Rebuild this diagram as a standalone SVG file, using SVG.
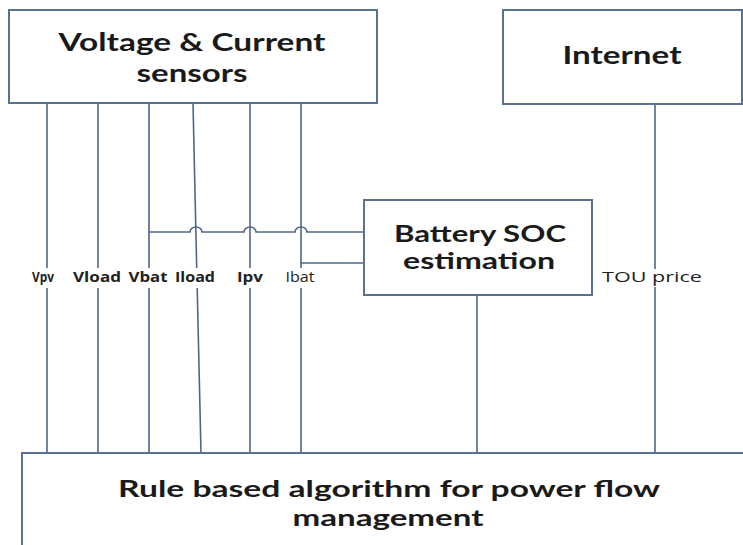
<svg xmlns="http://www.w3.org/2000/svg" width="743" height="545" viewBox="0 0 743 545">
  <style>
    .box { fill: #ffffff; stroke: #5b7191; stroke-width: 2; }
    .wire { fill: none; stroke: #4d6688; stroke-width: 1.6; }
    .title { font-family: Lato, "Open Sans", "Liberation Sans", sans-serif; font-weight: 700; fill: #1a1a1a; text-anchor: middle; }
    .t24 { font-size: 24px; }
    .t23 { font-size: 23px; }
    .t22 { font-size: 22px; }
    .lbl { font-family: "Open Sans", "Liberation Sans", sans-serif; font-weight: 700; font-size: 14px; fill: #222222; text-anchor: middle; }
    .lbl.plain { font-weight: 400; }
  </style>
  <rect width="743" height="545" fill="#ffffff"/>

  <!-- signal wires -->
  <g id="connectors">
    <!-- sensor outputs down to the algorithm block, broken around their labels -->
    <path class="wire" d="M47 103 V268 M47 288 V453"/>
    <path class="wire" d="M98 103 V268 M98 288 V453"/>
    <path class="wire" d="M149 103 V268 M149 288 V453"/>
    <path class="wire" d="M193 103 L196.7 268 M197.2 288 L201 453"/>
    <path class="wire" d="M250 103 V268 M250 288 V453"/>
    <path class="wire" d="M301 103 V268 M301 288 V453"/>
    <!-- Vbat into SOC estimation, hopping over Iload, Ipv and Ibat -->
    <path class="wire" d="M149 232 H190 A6 5 0 0 1 202 232 H244 A6 5 0 0 1 256 232 H295 A6 5 0 0 1 307 232 H364"/>
    <!-- Ibat into SOC estimation -->
    <path class="wire" d="M301 263 H364"/>
    <!-- SOC estimate to the algorithm block -->
    <path class="wire" d="M477 295 V453"/>
    <!-- TOU price from the internet -->
    <path class="wire" d="M655 104 V269 M655 287 V453"/>
  </g>

  <!-- wire labels -->
  <g id="labels">
    <text class="lbl" x="43" y="282" textLength="22" lengthAdjust="spacingAndGlyphs">Vpv</text>
    <text class="lbl" x="97" y="282" textLength="48" lengthAdjust="spacingAndGlyphs">Vload</text>
    <text class="lbl" x="148" y="282" textLength="39" lengthAdjust="spacingAndGlyphs">Vbat</text>
    <text class="lbl" x="195" y="282" textLength="40" lengthAdjust="spacingAndGlyphs">Iload</text>
    <text class="lbl" x="250" y="282" textLength="26" lengthAdjust="spacingAndGlyphs">Ipv</text>
    <text class="lbl plain" x="300" y="282" textLength="29" lengthAdjust="spacingAndGlyphs">Ibat</text>
    <text class="lbl plain" x="652" y="282" textLength="100" lengthAdjust="spacingAndGlyphs">TOU price</text>
  </g>

  <g id="sensors">
    <rect class="box" x="9" y="10" width="368" height="93"/>
    <text class="title t24" x="192" y="51" textLength="267" lengthAdjust="spacingAndGlyphs">Voltage &amp; Current</text>
    <text class="title t24" x="192" y="82" textLength="111" lengthAdjust="spacingAndGlyphs">sensors</text>
  </g>

  <g id="internet">
    <rect class="box" x="503" y="10" width="239" height="94"/>
    <text class="title t24" x="622" y="64" textLength="119" lengthAdjust="spacingAndGlyphs">Internet</text>
  </g>

  <g id="soc-estimation">
    <rect class="box" x="364" y="200" width="228" height="95"/>
    <text class="title t22" x="480" y="242" textLength="172" lengthAdjust="spacingAndGlyphs">Battery SOC</text>
    <text class="title t22" x="479" y="269" textLength="152" lengthAdjust="spacingAndGlyphs">estimation</text>
  </g>

  <g id="algorithm">
    <rect class="box" x="22" y="453" width="740" height="110"/>
    <text class="title t23" x="389" y="497" textLength="542" lengthAdjust="spacingAndGlyphs">Rule based algorithm for power flow</text>
    <text class="title t23" x="388" y="526" textLength="191" lengthAdjust="spacingAndGlyphs">management</text>
  </g>
</svg>
